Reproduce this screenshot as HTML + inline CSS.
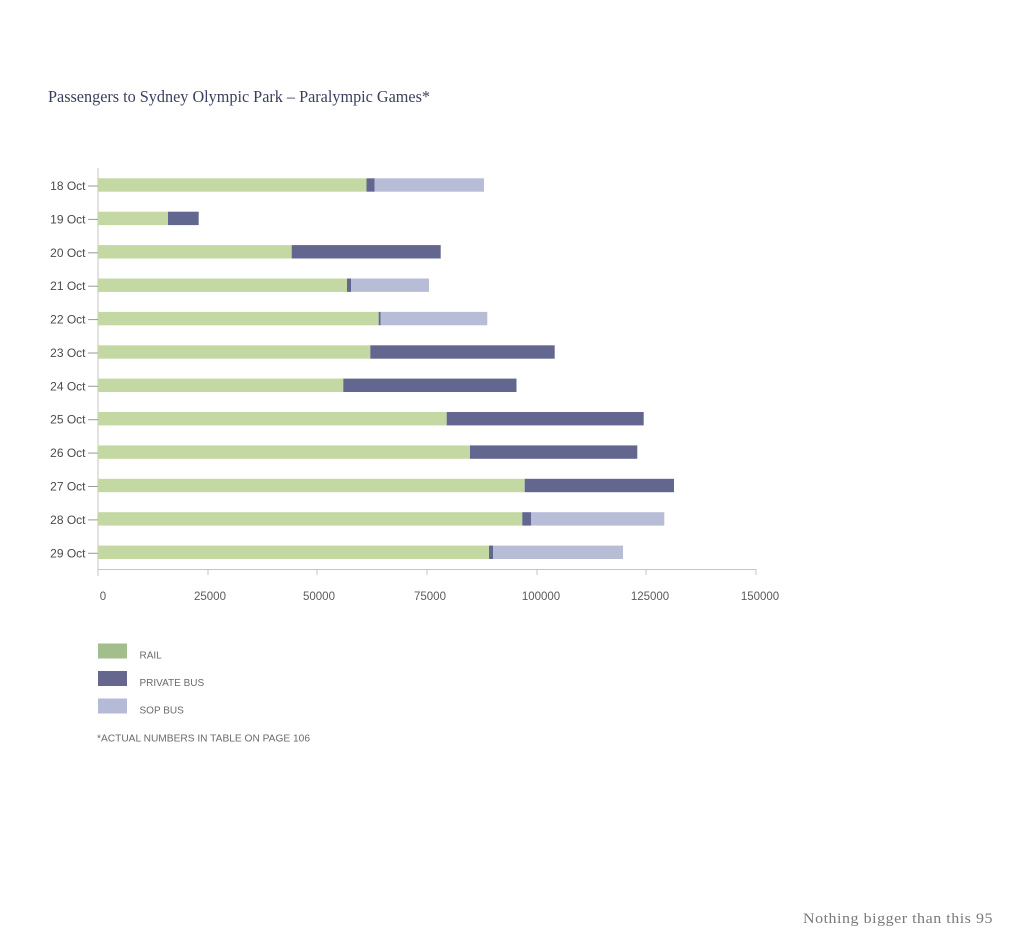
<!DOCTYPE html>
<html>
<head>
<meta charset="utf-8">
<style>
  html, body { margin: 0; padding: 0; background: #ffffff; }
  svg { display: block; }
  .ylab { font-family: "Liberation Sans", sans-serif; font-size: 12px; fill: #4a4a4a; }
  .xlab { font-family: "Liberation Sans", sans-serif; font-size: 11.5px; fill: #5a5a5a; }
  .leg { font-family: "Liberation Sans", sans-serif; font-size: 10px; fill: #6a6a6a; }
</style>
</head>
<body>
<svg width="1024" height="945" viewBox="0 0 1024 945" xmlns="http://www.w3.org/2000/svg">
  <rect x="0" y="0" width="1024" height="945" fill="#ffffff"/>

  <!-- Title -->
  <text x="48" y="102" font-family="'Liberation Serif', serif" font-size="17" fill="#3b3f5e" textLength="382" lengthAdjust="spacingAndGlyphs">Passengers to Sydney Olympic Park – Paralympic Games*</text>

  <!-- Axes -->
  <line x1="98" y1="168" x2="98" y2="576" stroke="#c4c4c4" stroke-width="1"/>
  <line x1="98" y1="569.5" x2="756" y2="569.5" stroke="#c4c4c4" stroke-width="1"/>
  <g stroke="#c4c4c4" stroke-width="1">
    <line x1="208" y1="569.5" x2="208" y2="575"/>
    <line x1="317" y1="569.5" x2="317" y2="575"/>
    <line x1="427" y1="569.5" x2="427" y2="575"/>
    <line x1="537" y1="569.5" x2="537" y2="575"/>
    <line x1="646" y1="569.5" x2="646" y2="575"/>
    <line x1="756" y1="569.5" x2="756" y2="575"/>
  </g>

  <!-- X tick labels -->
  <g class="xlab" text-anchor="middle">
    <text x="103" y="600">0</text>
    <text x="210" y="600">25000</text>
    <text x="319" y="600">50000</text>
    <text x="430" y="600">75000</text>
    <text x="541" y="600">100000</text>
    <text x="650" y="600">125000</text>
    <text x="760" y="600">150000</text>
  </g>

  <!-- Y labels and ticks -->
  <g class="ylab" text-anchor="end">
    <text x="85.5" y="190">18 Oct</text>
    <text x="85.5" y="223.4">19 Oct</text>
    <text x="85.5" y="256.8">20 Oct</text>
    <text x="85.5" y="290.2">21 Oct</text>
    <text x="85.5" y="323.6">22 Oct</text>
    <text x="85.5" y="357">23 Oct</text>
    <text x="85.5" y="390.3">24 Oct</text>
    <text x="85.5" y="423.7">25 Oct</text>
    <text x="85.5" y="457.1">26 Oct</text>
    <text x="85.5" y="490.5">27 Oct</text>
    <text x="85.5" y="523.9">28 Oct</text>
    <text x="85.5" y="557.3">29 Oct</text>
  </g>
  <g stroke="#9a9a9a" stroke-width="1">
    <line x1="88" y1="186" x2="98" y2="186"/>
    <line x1="88" y1="219.4" x2="98" y2="219.4"/>
    <line x1="88" y1="252.8" x2="98" y2="252.8"/>
    <line x1="88" y1="286.2" x2="98" y2="286.2"/>
    <line x1="88" y1="319.6" x2="98" y2="319.6"/>
    <line x1="88" y1="353" x2="98" y2="353"/>
    <line x1="88" y1="386.3" x2="98" y2="386.3"/>
    <line x1="88" y1="419.7" x2="98" y2="419.7"/>
    <line x1="88" y1="453.1" x2="98" y2="453.1"/>
    <line x1="88" y1="486.5" x2="98" y2="486.5"/>
    <line x1="88" y1="519.9" x2="98" y2="519.9"/>
    <line x1="88" y1="553.3" x2="98" y2="553.3"/>
  </g>

  <!-- Bars -->
  <g>
    <!-- 18 Oct -->
    <rect x="98" y="178.3" width="268.5" height="13.4" fill="#c4d8a4"/>
    <rect x="366.5" y="178.3" width="8" height="13.4" fill="#63678f"/>
    <rect x="374.5" y="178.3" width="109.5" height="13.4" fill="#b8bdd7"/>
    <!-- 19 Oct -->
    <rect x="98" y="211.7" width="70" height="13.4" fill="#c4d8a4"/>
    <rect x="168" y="211.7" width="30.7" height="13.4" fill="#63678f"/>
    <!-- 20 Oct -->
    <rect x="98" y="245.1" width="193.7" height="13.4" fill="#c4d8a4"/>
    <rect x="291.7" y="245.1" width="149" height="13.4" fill="#63678f"/>
    <!-- 21 Oct -->
    <rect x="98" y="278.5" width="249" height="13.4" fill="#c4d8a4"/>
    <rect x="347" y="278.5" width="4" height="13.4" fill="#63678f"/>
    <rect x="351" y="278.5" width="78" height="13.4" fill="#b8bdd7"/>
    <!-- 22 Oct -->
    <rect x="98" y="311.9" width="280.7" height="13.4" fill="#c4d8a4"/>
    <rect x="378.7" y="311.9" width="2" height="13.4" fill="#63678f"/>
    <rect x="380.7" y="311.9" width="106.6" height="13.4" fill="#b8bdd7"/>
    <!-- 23 Oct -->
    <rect x="98" y="345.3" width="272.3" height="13.4" fill="#c4d8a4"/>
    <rect x="370.3" y="345.3" width="184.4" height="13.4" fill="#63678f"/>
    <!-- 24 Oct -->
    <rect x="98" y="378.6" width="245.3" height="13.4" fill="#c4d8a4"/>
    <rect x="343.3" y="378.6" width="173.2" height="13.4" fill="#63678f"/>
    <!-- 25 Oct -->
    <rect x="98" y="412" width="348.7" height="13.4" fill="#c4d8a4"/>
    <rect x="446.7" y="412" width="197" height="13.4" fill="#63678f"/>
    <!-- 26 Oct -->
    <rect x="98" y="445.4" width="372" height="13.4" fill="#c4d8a4"/>
    <rect x="470" y="445.4" width="167.3" height="13.4" fill="#63678f"/>
    <!-- 27 Oct -->
    <rect x="98" y="478.8" width="426.7" height="13.4" fill="#c4d8a4"/>
    <rect x="524.7" y="478.8" width="149.3" height="13.4" fill="#63678f"/>
    <!-- 28 Oct -->
    <rect x="98" y="512.2" width="424.3" height="13.4" fill="#c4d8a4"/>
    <rect x="522.3" y="512.2" width="8.7" height="13.4" fill="#63678f"/>
    <rect x="531" y="512.2" width="133.3" height="13.4" fill="#b8bdd7"/>
    <!-- 29 Oct -->
    <rect x="98" y="545.6" width="391" height="13.4" fill="#c4d8a4"/>
    <rect x="489" y="545.6" width="4" height="13.4" fill="#63678f"/>
    <rect x="493" y="545.6" width="130" height="13.4" fill="#b8bdd7"/>
  </g>

  <!-- Legend -->
  <rect x="98" y="643.5" width="29" height="15" fill="#a2be8d"/>
  <rect x="98" y="671" width="29" height="15" fill="#65678f"/>
  <rect x="98" y="698.5" width="29" height="15" fill="#b5bad6"/>
  <text class="leg" x="139.5" y="658.5">RAIL</text>
  <text class="leg" x="139.5" y="686">PRIVATE BUS</text>
  <text class="leg" x="139.5" y="713.5">SOP BUS</text>
  <text class="leg" x="97" y="741.5" textLength="213" lengthAdjust="spacingAndGlyphs">*ACTUAL NUMBERS IN TABLE ON PAGE 106</text>

  <!-- Footer -->
  <text x="803" y="923" font-family="'Liberation Serif', serif" font-size="15" fill="#7a7a7a" textLength="190" lengthAdjust="spacingAndGlyphs" letter-spacing="0.5">Nothing bigger than this  95</text>
</svg>
</body>
</html>
